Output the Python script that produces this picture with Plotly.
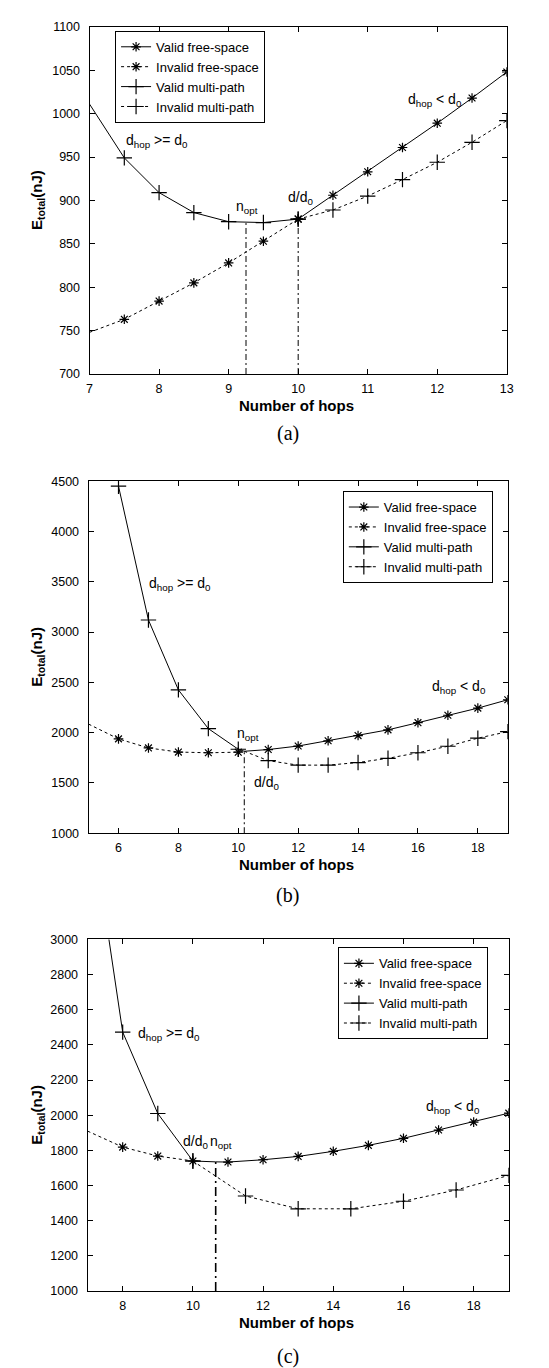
import numpy as np
import plotly.graph_objects as go

# ---------------- data ----------------
# Panel (a)
a_x_left = [7, 7.5, 8, 8.5, 9, 9.5, 10]
a_valid_mp = [1011, 949, 909, 886, 875.5, 874.5, 878.5]
a_invalid_fs = [748, 763, 784, 805, 828, 853, 878.5]
a_x_right = [10, 10.5, 11, 11.5, 12, 12.5, 13]
a_valid_fs = [878.5, 906, 933, 961, 989, 1018, 1048]
a_invalid_mp = [878.5, 889, 905, 924, 944, 967, 992]
a_n_opt = 9.25
a_d_d0 = 10
a_xticks = [7, 8, 9, 10, 11, 12, 13]
a_yticks = [700, 750, 800, 850, 900, 950, 1000, 1050, 1100]

# Panel (b)
b_x_valid_mp = [6, 7, 8, 9, 10, 10.2]
b_valid_mp = [4450, 3120, 2425, 2040, 1835, 1815]
b_x_invalid_fs = [5, 6, 7, 8, 9, 10, 10.2]
b_invalid_fs = [2085, 1938, 1848, 1807, 1800, 1806, 1815]
b_x_right = [10.2, 11, 12, 13, 14, 15, 16, 17, 18, 19]
b_valid_fs = [1815, 1832, 1867, 1919, 1971, 2028, 2099, 2173, 2244, 2327]
b_invalid_mp = [1815, 1722, 1677, 1677, 1703, 1745, 1800, 1865, 1945, 2010]
b_n_opt = 10.2
b_xticks = [6, 8, 10, 12, 14, 16, 18]
b_yticks = [1000, 1500, 2000, 2500, 3000, 3500, 4000, 4500]

# Panel (c)
c_x_valid_mp = [7, 8, 9, 10, 10.65]
c_valid_mp = [3820, 2473, 2010, 1740, 1735]
c_x_invalid_fs = [7, 8, 9, 10]
c_invalid_fs = [1910, 1819, 1768, 1740]
c_x_valid_fs = [10.65, 11, 12, 13, 14, 15, 16, 17, 18, 19]
c_valid_fs = [1735, 1734, 1747, 1766, 1795, 1829, 1869, 1916, 1961, 2012]
c_x_invalid_mp = [10, 11.5, 13, 14.5, 16, 17.5, 19]
c_invalid_mp = [1740, 1541, 1468, 1468, 1511, 1575, 1658]
c_n_opt = 10.65
c_xticks = [8, 10, 12, 14, 16, 18]
c_yticks = [1000, 1200, 1400, 1600, 1800, 2000, 2200, 2400, 2600, 2800, 3000]

series_names = ["Valid free-space", "Invalid free-space", "Valid multi-path", "Invalid multi-path"]

# ---------------- styling ----------------
NARROW = "Liberation Sans Narrow, Arial Narrow, Liberation Sans, Arial, sans-serif"
SANS = "Liberation Sans, Arial, sans-serif"
SERIF = "Liberation Serif, Times New Roman, serif"
W, H = 549, 1368

STYLE = {
    "Valid free-space": dict(dash="solid", symbol="asterisk-open", size=8),
    "Invalid free-space": dict(dash="3px,3px", symbol="asterisk-open", size=8),
    "Valid multi-path": dict(dash="solid", symbol="cross-thin-open", size=11),
    "Invalid multi-path": dict(dash="3px,3px", symbol="cross-thin-open", size=11),
}

panels = [
    dict(xa="x", ya="y", legend="legend", xrange=[7, 13], yrange=[700, 1100],
         xticks=a_xticks, yticks=a_yticks, n_opt=a_n_opt,
         series={"Valid free-space": (a_x_right, a_valid_fs),
                 "Invalid free-space": (a_x_left, a_invalid_fs),
                 "Valid multi-path": (a_x_left, a_valid_mp),
                 "Invalid multi-path": (a_x_right, a_invalid_mp)},
         vlines=[(a_n_opt, a_x_left, a_valid_mp, "6px,3px,2px,3px", 1),
                 (a_d_d0, a_x_right, a_valid_fs, "6px,3px,2px,3px", 1)],
         xdom=[80, 505], ydom=[12, 362.7]),
    dict(xa="x2", ya="y2", legend="legend2", xrange=[5, 19], yrange=[1000, 4500],
         xticks=b_xticks, yticks=b_yticks, n_opt=b_n_opt,
         series={"Valid free-space": (b_x_right, b_valid_fs),
                 "Invalid free-space": (b_x_invalid_fs, b_invalid_fs),
                 "Valid multi-path": (b_x_valid_mp, b_valid_mp),
                 "Invalid multi-path": (b_x_right, b_invalid_mp)},
         vlines=[(b_n_opt, b_x_right, b_valid_fs, "6px,3px,2px,3px", 1)],
         xdom=[79, 506], ydom=[471, 826.7]),
    dict(xa="x3", ya="y3", legend="legend3", xrange=[7, 19], yrange=[1000, 3000],
         xticks=c_xticks, yticks=c_yticks, n_opt=c_n_opt,
         series={"Valid free-space": (c_x_valid_fs, c_valid_fs),
                 "Invalid free-space": (c_x_invalid_fs, c_invalid_fs),
                 "Valid multi-path": (c_x_valid_mp, c_valid_mp),
                 "Invalid multi-path": (c_x_invalid_mp, c_invalid_mp)},
         vlines=[(c_n_opt, c_x_valid_fs, c_valid_fs, "9px,4px,2px,4px", 1.6)],
         xdom=[78, 507], ydom=[934, 1289.3]),
]

fig = go.Figure()

for p in panels:
    # vertical reference lines (under curves)
    for xv, sx, sy, dash, lw in p["vlines"]:
        top = float(np.interp(xv, sx, sy))
        fig.add_trace(go.Scatter(x=[xv, xv], y=[p["yrange"][0], top], mode="lines",
                                 line=dict(color="black", width=lw, dash=dash),
                                 xaxis=p["xa"], yaxis=p["ya"], showlegend=False, hoverinfo="skip"))
    for name in series_names:
        sx, sy = p["series"][name]
        st = STYLE[name]
        sx = np.array(sx, dtype=float)
        sy = np.array(sy, dtype=float)
        fig.add_trace(go.Scatter(x=sx, y=sy, mode="lines",
                                 line=dict(color="black", width=1, dash=st["dash"]),
                                 xaxis=p["xa"], yaxis=p["ya"], showlegend=False))
        mark = (sx > p["xrange"][0] + 1e-9) & ~np.isclose(sx, p["n_opt"])
        fig.add_trace(go.Scatter(x=sx[mark], y=sy[mark], mode="markers",
                                 marker=dict(symbol=st["symbol"], size=st["size"], color="black",
                                             line=dict(color="black", width=1.2)),
                                 xaxis=p["xa"], yaxis=p["ya"], showlegend=False))
        # legend entry
        fig.add_trace(go.Scatter(x=[None], y=[None], mode="lines+markers", name=name,
                                 line=dict(color="black", width=1, dash=st["dash"]),
                                 marker=dict(symbol=st["symbol"], size=st["size"], color="black",
                                             line=dict(color="black", width=1.2)),
                                 xaxis=p["xa"], yaxis=p["ya"], legend=p["legend"], showlegend=True))

axis_common = dict(showline=True, linecolor="black", linewidth=1, mirror="ticks",
                   ticks="inside", ticklen=5, tickcolor="black", tickwidth=1,
                   showgrid=False, zeroline=False,
                   tickfont=dict(family=NARROW, size=12.5, color="black"))

layout = dict(width=W, height=H, margin=dict(l=0, r=0, t=0, b=0),
              paper_bgcolor="white", plot_bgcolor="white", showlegend=True)

legend_pos = {"legend": (106, 16), "legend2": (338, 481), "legend3": (333, 942)}

for i, p in enumerate(panels):
    sfx = "" if i == 0 else str(i + 1)
    layout["xaxis" + sfx] = dict(axis_common, range=p["xrange"], tickvals=p["xticks"],
                                 domain=[p["xdom"][0] / W, p["xdom"][1] / W],
                                 anchor="y" + sfx, ticklabelstandoff=3)
    layout["yaxis" + sfx] = dict(axis_common, range=p["yrange"], tickvals=p["yticks"],
                                 domain=[1 - p["ydom"][1] / H, 1 - p["ydom"][0] / H],
                                 anchor="x" + sfx, ticklabelstandoff=6)
    lx, ly = legend_pos[p["legend"]]
    layout[p["legend"]] = dict(x=lx / W, y=1 - ly / H, xref="paper", yref="paper",
                               xanchor="left", yanchor="top", bgcolor="white",
                               bordercolor="black", borderwidth=1,
                               font=dict(family=NARROW, size=13, color="black"),
                               itemwidth=30, tracegroupgap=0)

fig.update_layout(**layout)

ann_font = dict(family=NARROW, size=14, color="black")
labels = [
    ("x", "y", 7.5, 968, "d<sub>hop</sub> >= d<sub>0</sub>"),
    ("x", "y", 9.08, 893, "n<sub>opt</sub>"),
    ("x", "y", 9.82, 903, "d/d<sub>0</sub>"),
    ("x", "y", 11.55, 1016, "d<sub>hop</sub> < d<sub>0</sub>"),
    ("x2", "y2", 6.95, 3480, "d<sub>hop</sub> >= d<sub>0</sub>"),
    ("x2", "y2", 9.9, 1990, "n<sub>opt</sub>"),
    ("x2", "y2", 10.45, 1500, "d/d<sub>0</sub>"),
    ("x2", "y2", 16.4, 2450, "d<sub>hop</sub> < d<sub>0</sub>"),
    ("x3", "y3", 8.38, 2460, "d<sub>hop</sub> >= d<sub>0</sub>"),
    ("x3", "y3", 9.67, 1850, "d/d<sub>0</sub>"),
    ("x3", "y3", 10.43, 1850, "n<sub>opt</sub>"),
    ("x3", "y3", 16.58, 2045, "d<sub>hop</sub> < d<sub>0</sub>"),
]
for xr, yr, x, y, t in labels:
    fig.add_annotation(x=x, y=y, xref=xr, yref=yr, text=t, showarrow=False,
                       xanchor="left", yanchor="middle", font=ann_font)

captions = ["(a)", "(b)", "(c)"]
xtitle_y = [395, 858, 1321]
cap_y = [423, 890, 1355]
for i, p in enumerate(panels):
    yc = (p["ydom"][0] + p["ydom"][1]) / 2
    fig.add_annotation(x=27 / W, y=1 - yc / H, xref="paper", yref="paper",
                       text="<b>E<sub>total</sub>(nJ)</b>", textangle=-90, showarrow=False,
                       xanchor="center", yanchor="middle",
                       font=dict(family=SANS, size=15, color="black"))
    fig.add_annotation(x=291 / W, y=1 - xtitle_y[i] / H, xref="paper", yref="paper",
                       text="<b>Number of hops</b>", showarrow=False,
                       xanchor="center", yanchor="middle",
                       font=dict(family=SANS, size=15, color="black"))
    fig.add_annotation(x=282 / W, y=1 - cap_y[i] / H, xref="paper", yref="paper",
                       text=captions[i], showarrow=False,
                       xanchor="center", yanchor="middle",
                       font=dict(family=SERIF, size=20, color="black"))

fig.write_html("out.html")
